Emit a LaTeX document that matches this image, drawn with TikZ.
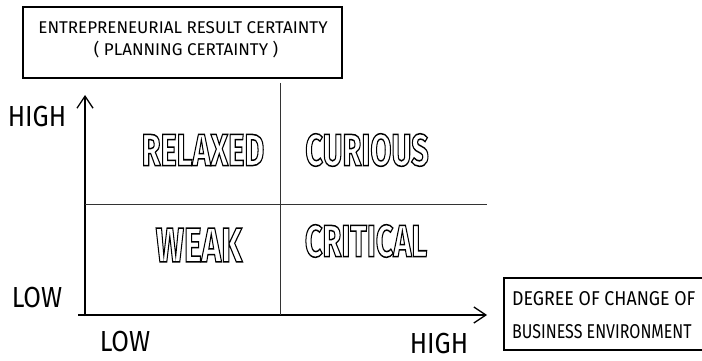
\documentclass[tikz,border=0pt]{standalone}
\usepackage{fontspec}
\setmainfont{Fira Sans}
\usetikzlibrary{arrows.meta}
\newcommand{\outlinetext}[1]{\special{pdf:literal direct 1 Tr 1.5 w}#1\special{pdf:literal direct 0 Tr}}
\tikzset{
  hand/.style={font=\fontsize{17}{19}\selectfont, inner sep=0pt},
  boxtext/.style={font=\fontsize{20}{22}\selectfont, inner sep=0pt, xscale=0.89, transform shape},
  axlabel/.style={font=\fontsize{29}{31}\selectfont, inner sep=0pt, xscale=0.88, transform shape},
  quad/.style={font=\bfseries\fontsize{45}{47}\selectfont, inner sep=0pt, xscale=0.68, transform shape},
  framebox/.style={draw, line width=1.2pt},
  axis/.style={line width=1.3pt},
  divider/.style={line width=1pt, black!80},
  tip/.style={-{Straight Barb[length=12pt,width=16pt,line width=1.3pt]}}
}
\begin{document}
\begin{tikzpicture}[x=1pt,y=-1pt]
\useasboundingbox (0,0) rectangle (702,361);
% top box
\draw[framebox] (23,7) rectangle (342,78);
\node[hand] (t1) at (183,28) {ENTREPRENEURIAL RESULT CERTAINTY};
\node[hand] (t2) at (186,50) {( PLANNING CERTAINTY )};
% axes
\coordinate (o) at (85,316);
\coordinate (ytop) at (85,95);
\coordinate (xend) at (487,315);
\coordinate (o2) at (78,315);
\draw[axis,tip] (o) -- (ytop);
\draw[axis,tip] (o2) -- (xend);
% dividers
\coordinate (vt) at (280,83);
\coordinate (vb) at (280,315);
\coordinate (hl) at (85,204);
\coordinate (hr) at (487,204);
\draw[divider] (vt) -- (vb);
\draw[divider] (hl) -- (hr);
% axis labels
\node[axlabel] (yh) at (37,117) {HIGH};
\node[axlabel] (yl) at (37,298) {LOW};
\node[axlabel] (xl) at (125,342) {LOW};
\node[axlabel] (xh) at (439,344) {HIGH};
% quadrant words
\node[quad] (q1) at (203,150) {\outlinetext{RELAXED}};
\node[quad] (q2) at (367,150) {\outlinetext{CURIOUS}};
\node[quad,font=\bfseries\fontsize{49}{51}\selectfont] (q3) at (199,245) {\outlinetext{WEAK}};
\node[quad] (q4) at (366,241) {\outlinetext{CRITICAL}};
% bottom box
\draw[framebox] (504,278) rectangle (710,350);
\node[boxtext,anchor=west] (b1) at (512,299) {DEGREE OF CHANGE OF};
\node[boxtext,anchor=west,xscale=0.9] (b2) at (512,332) {BUSINESS ENVIRONMENT};
\end{tikzpicture}
\end{document}
